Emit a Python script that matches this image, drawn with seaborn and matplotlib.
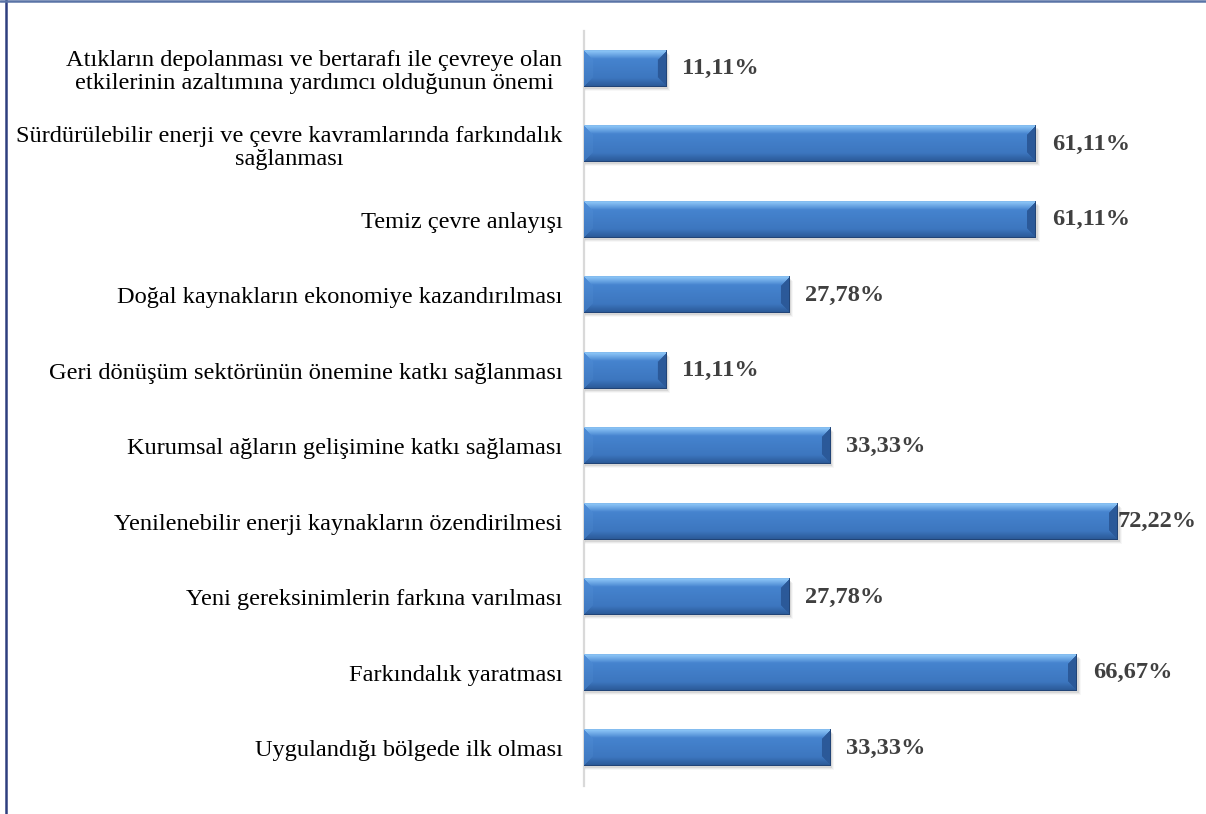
import numpy as np
import pandas as pd
import matplotlib
matplotlib.use("Agg")
import matplotlib.pyplot as plt
from matplotlib.lines import Line2D
from matplotlib.patches import Rectangle
import seaborn as sns

# Survey items and the share of respondents selecting each one (%)
categories = [
    "Atıkların depolanması ve bertarafı ile çevreye olan\netkilerinin azaltımına yardımcı olduğunun önemi",
    "Sürdürülebilir enerji ve çevre kavramlarında farkındalık\nsağlanması",
    "Temiz çevre anlayışı",
    "Doğal kaynakların ekonomiye kazandırılması",
    "Geri dönüşüm sektörünün önemine katkı sağlanması",
    "Kurumsal ağların gelişimine katkı sağlaması",
    "Yenilenebilir enerji kaynakların özendirilmesi",
    "Yeni gereksinimlerin farkına varılması",
    "Farkındalık yaratması",
    "Uygulandığı bölgede ilk olması",
]
values = [11.11, 61.11, 61.11, 27.78, 11.11, 33.33, 72.22, 27.78, 66.67, 33.33]
value_labels = ["11,11%", "61,11%", "61,11%", "27,78%", "11,11%",
                "33,33%", "72,22%", "27,78%", "66,67%", "33,33%"]

df = pd.DataFrame({"item": categories, "pct": values})

sns.set_theme(style="white")
plt.rcParams["font.family"] = ["Liberation Serif", "DejaVu Serif"]

FS = 17.6
W, H, DPI = 1206, 814, 100
fig = plt.figure(figsize=(W / DPI, H / DPI), dpi=DPI)
ax = fig.add_axes([584 / W, 1 - 786 / H, (1200 - 584) / W, (786 - 31) / H])

sns.barplot(data=df, x="pct", y="item", orient="h", color="#3d78c0",
            width=0.48, ax=ax, saturation=1)

PX_PER_UNIT = 7.394
XMAX = (1200 - 584) / PX_PER_UNIT
ax.set_xlim(0, XMAX)
ax.set_ylim(len(categories) - 0.5, -0.5)


def bevel_image(wpx, hpx):
    """RGB image of a bar with bevelled edges and a vertical gradient."""
    wpx, hpx = max(int(round(wpx)), 2), max(int(round(hpx)), 2)
    y = (np.arange(hpx) + 0.5)[:, None] * np.ones((1, wpx))
    x = np.ones((hpx, 1)) * (np.arange(wpx) + 0.5)[None, :]
    t = y / hpx
    face_top = np.array([0.29, 0.54, 0.84])
    face_bot = np.array([0.22, 0.44, 0.72])
    img = face_top[None, None, :] * (1 - t[..., None]) + face_bot[None, None, :] * t[..., None]
    b = 0.24 * hpx
    dt, db, dl, dr = y, hpx - y, x, wpx - x
    dmin = np.minimum(np.minimum(dt, db), np.minimum(dl, dr))
    top_f = (dt == dmin) & (dt < b)
    bot_f = (db == dmin) & (db < b) & ~top_f
    left_f = (dl == dmin) & (dl < b) & ~top_f & ~bot_f
    right_f = (dr == dmin) & (dr < b) & ~top_f & ~bot_f & ~left_f
    # top facet: light highlight fading into the face
    s = np.clip(1 - dt / b, 0, 1)[..., None]
    light = np.array([0.58, 0.80, 0.98])
    img = np.where(top_f[..., None], img * (1 - s) + light * s, img)
    dark = np.array([0.15, 0.32, 0.55])
    s2 = np.clip(1 - db / b, 0, 1)[..., None]
    img = np.where(bot_f[..., None], img * (1 - 0.8 * s2) + dark * 0.8 * s2, img)
    img = np.where(left_f[..., None], img * 0.9 + np.array([0.45, 0.68, 0.92]) * 0.1, img)
    img = np.where(right_f[..., None], np.array([0.17, 0.35, 0.60]) * np.ones_like(img), img)
    # thin dark outline on right and bottom
    img[-1, :, :] = [0.13, 0.27, 0.47]
    img[:, -1, :] = [0.13, 0.27, 0.47]
    img[0, :, :] = img[0, :, :] * 0.8 + np.array([0.35, 0.55, 0.80]) * 0.2
    return np.clip(img, 0, 1)


fig.canvas.draw()
to_px = ax.transData
for patch, val in zip(ax.patches, values):
    x0, y0 = patch.get_x(), patch.get_y()
    w, h = patch.get_width(), patch.get_height()
    p0 = to_px.transform((x0, y0))
    p1 = to_px.transform((x0 + w, y0 + h))
    wpx, hpx = abs(p1[0] - p0[0]), abs(p1[1] - p0[1])
    # soft drop shadow
    dx = 2.0 / PX_PER_UNIT
    dy_unit = h / hpx
    for k, a in enumerate([0.10, 0.07, 0.04]):
        ax.add_patch(Rectangle((x0 + dx * 0.5, y0 + dy_unit * (2 + k)), w + dx * (0.5 + k * 0.5),
                               h, facecolor="#404040", edgecolor="none", alpha=a, zorder=1))
    ax.imshow(bevel_image(wpx, hpx), extent=(x0, x0 + w, y0 + h, y0),
              origin="upper", aspect="auto", interpolation="bilinear", zorder=3)
    patch.set_alpha(0)

ax.set_xlim(0, XMAX)
ax.set_ylim(len(categories) - 0.5, -0.5)

# value labels next to the bar ends (kept inside the chart area)
renderer = fig.canvas.get_renderer()
for i, (val, lab) in enumerate(zip(values, value_labels)):
    gap = 16 / PX_PER_UNIT
    txt = ax.text(val + gap, i, lab, ha="left", va="center", fontsize=FS,
                  fontweight="bold", color="#404040", zorder=5)
    bb = txt.get_window_extent(renderer)
    if bb.x1 > 1200:
        txt.set_position((val, i))

ax.set_xlabel("")
ax.set_ylabel("")
ax.set_xticks([])
ax.tick_params(axis="y", length=0, pad=15.5, labelsize=FS, labelcolor="black")
for lbl in ax.get_yticklabels():
    lbl.set_multialignment("center")
    lbl.set_linespacing(1.12)
sns.despine(ax=ax, left=False, bottom=True, top=True, right=True)
ax.spines["left"].set_color("#d9d9d9")
ax.spines["left"].set_linewidth(1.6)
ax.spines["left"].set_zorder(0)

# chart frame
fig.add_artist(Line2D([6 / W, 6 / W], [0, 1], transform=fig.transFigure,
                      color="#2e3f7f", linewidth=1.8))
fig.add_artist(Line2D([0, 1], [1 - 0.8 / H, 1 - 0.8 / H], transform=fig.transFigure,
                      color="#5a74a6", linewidth=1.8))

fig.savefig("out.png", dpi=DPI, facecolor="white")
